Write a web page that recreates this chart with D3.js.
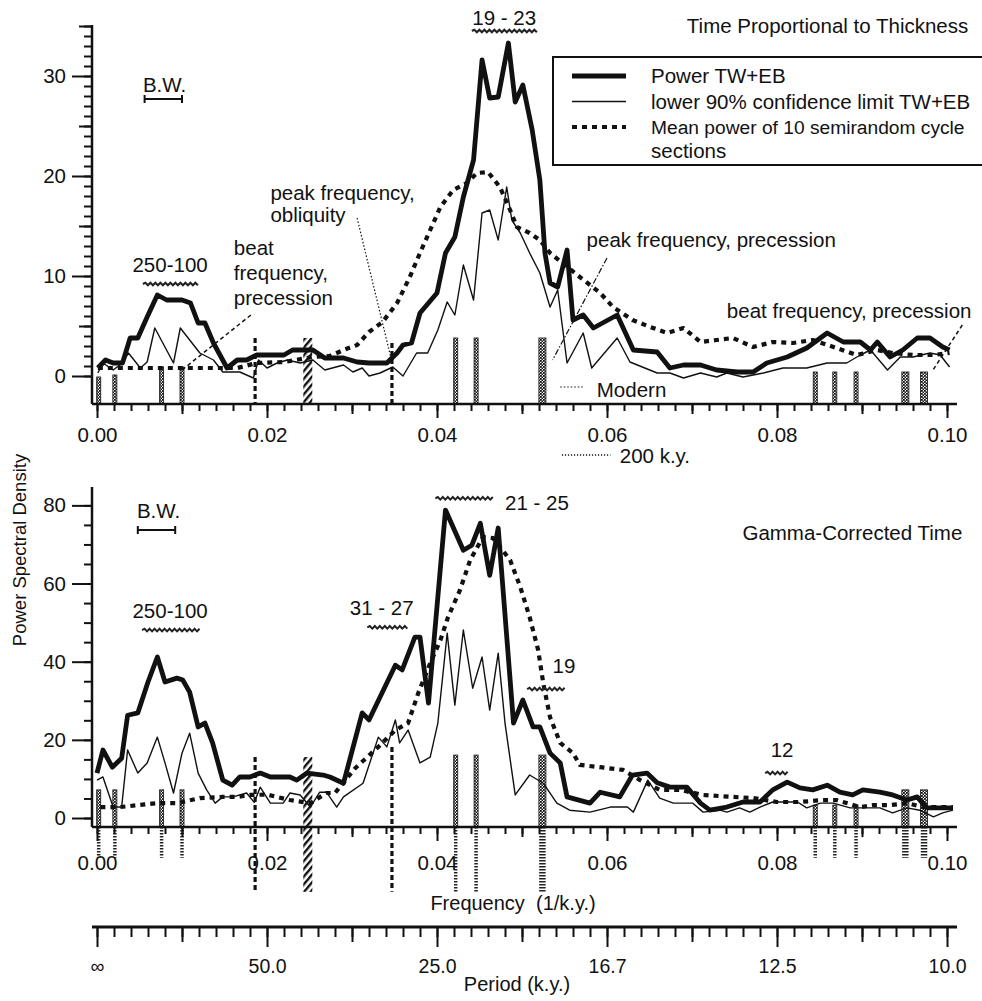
<!DOCTYPE html>
<html><head><meta charset="utf-8">
<script src="https://cdn.jsdelivr.net/npm/d3@7"></script>
<style>
body{margin:0;background:#fff}
svg{display:block}
text{font-family:"Liberation Sans",Arial,Helvetica,sans-serif;fill:#111}
</style></head>
<body><svg id="c" width="982" height="1001"></svg>
<script>
// ---------------- DATA ----------------
// [frequency (1/k.y.), power]
const topPower = [[0.0001,0.8],[0.001,1.6],[0.0019,1.3],[0.003,1.3],[0.0039,3.8],[0.0048,3.8],[0.0059,5.9],[0.0071,8.1],[0.0082,7.6],[0.010,7.6],[0.011,7.3],[0.0119,5.3],[0.0127,5.3],[0.0137,3.3],[0.0153,0.8],[0.0165,1.6],[0.0176,1.6],[0.0188,2.1],[0.022,2.1],[0.023,2.6],[0.0254,2.6],[0.0268,1.8],[0.029,1.8],[0.0306,1.4],[0.032,1.3],[0.0341,1.3],[0.0353,2.3],[0.036,3.1],[0.037,3.3],[0.038,6.3],[0.0388,7.1],[0.040,8.3],[0.041,12.3],[0.0421,13.9],[0.0431,17.9],[0.0443,21.6],[0.0453,31.6],[0.0462,27.8],[0.0472,27.9],[0.0484,33.3],[0.0492,27.4],[0.0501,29.1],[0.0512,24.6],[0.0521,19.6],[0.0527,12.3],[0.0533,9.3],[0.0542,8.9],[0.0553,12.6],[0.056,5.6],[0.0572,6.1],[0.0584,4.8],[0.0612,6.1],[0.0631,2.6],[0.0659,2.4],[0.0674,0.8],[0.069,1.1],[0.071,1.1],[0.0729,0.6],[0.0753,0.4],[0.0772,0.4],[0.0788,1.3],[0.0812,1.9],[0.0835,2.8],[0.0859,4.3],[0.0878,3.4],[0.0898,3.4],[0.091,2.6],[0.0918,3.4],[0.0933,1.9],[0.0948,2.6],[0.0965,3.8],[0.098,3.8],[0.0995,2.9],[0.1003,2.6]];
const topLower = [[0.0001,0.3],[0.0007,1.3],[0.0019,0.6],[0.003,1.3],[0.0037,2.3],[0.0051,0.8],[0.0059,1.4],[0.0068,4.8],[0.009,1.3],[0.0098,4.8],[0.0121,2.3],[0.0137,1.6],[0.0148,0.4],[0.0168,0.4],[0.0184,-0.2],[0.019,1.6],[0.02,0.8],[0.0212,1.3],[0.0224,1.6],[0.0239,1.3],[0.0254,1.6],[0.0268,0.6],[0.029,1.1],[0.0301,0.4],[0.0312,0.8],[0.032,0.0],[0.0333,0.3],[0.0348,0.9],[0.036,0.0],[0.0376,2.3],[0.0389,2.3],[0.0401,4.6],[0.0412,7.4],[0.0421,6.1],[0.0431,11.1],[0.0443,7.6],[0.0453,16.3],[0.0462,16.6],[0.0472,13.6],[0.0482,18.9],[0.0488,15.6],[0.0498,14.3],[0.0509,12.3],[0.0521,10.3],[0.0533,6.9],[0.0542,8.6],[0.0553,1.3],[0.0572,4.3],[0.0582,0.8],[0.0612,3.8],[0.0627,1.4],[0.0659,0.3],[0.0674,0.3],[0.069,-0.2],[0.071,0.3],[0.0729,-0.1],[0.0741,0.3],[0.076,-0.1],[0.0784,0.3],[0.0807,0.8],[0.0835,0.8],[0.0859,1.3],[0.0882,1.3],[0.0898,2.1],[0.091,2.6],[0.093,0.6],[0.0945,1.9],[0.096,1.9],[0.098,2.3],[0.0992,2.1],[0.1003,0.9]];
const topMean = [[0.0001,0.8],[0.005,0.8],[0.010,0.8],[0.0165,0.8],[0.0188,1.3],[0.022,1.4],[0.0254,1.9],[0.0274,2.0],[0.029,2.6],[0.0306,3.1],[0.032,4.4],[0.0336,5.4],[0.0353,7.3],[0.0368,9.9],[0.038,12.3],[0.0392,14.6],[0.0404,16.9],[0.0419,18.6],[0.0435,19.3],[0.0447,20.3],[0.046,20.4],[0.0474,18.9],[0.0486,16.6],[0.0494,14.9],[0.0509,14.3],[0.0521,13.6],[0.0533,12.3],[0.0568,9.9],[0.0592,8.3],[0.0607,6.9],[0.063,5.6],[0.0651,4.9],[0.0671,4.3],[0.069,4.8],[0.071,3.4],[0.0729,3.6],[0.0748,3.8],[0.0772,2.9],[0.0795,3.4],[0.0819,3.3],[0.0842,3.6],[0.087,2.8],[0.0894,2.1],[0.0918,2.6],[0.0936,2.3],[0.096,2.1],[0.0984,2.1],[0.1003,2.3]];

const botPower = [[0.0,11.5],[0.0007,17.4],[0.0018,13.0],[0.0029,15.3],[0.0036,26.3],[0.0048,26.9],[0.006,34.8],[0.0071,41.2],[0.008,34.8],[0.0094,35.8],[0.0101,35.3],[0.0109,32.2],[0.0119,23.3],[0.0127,24.3],[0.0136,19.2],[0.0148,9.7],[0.0159,8.4],[0.0168,10.5],[0.018,10.5],[0.0192,11.5],[0.0204,10.5],[0.0227,10.5],[0.0235,9.7],[0.0247,11.5],[0.0266,11.0],[0.0274,10.5],[0.029,8.9],[0.0312,26.9],[0.032,25.1],[0.0351,39.1],[0.0359,37.9],[0.0374,46.3],[0.038,46.3],[0.039,29.4],[0.041,78.8],[0.0431,68.5],[0.0441,69.8],[0.0451,75.4],[0.0462,62.1],[0.0472,74.2],[0.049,24.3],[0.0501,30.2],[0.0513,23.3],[0.0521,23.3],[0.0533,16.6],[0.0545,14.1],[0.0553,5.4],[0.058,3.8],[0.0592,6.6],[0.0615,5.4],[0.063,11.0],[0.0647,11.5],[0.0659,9.0],[0.0674,7.9],[0.0694,7.9],[0.071,3.8],[0.0721,2.0],[0.0741,2.8],[0.076,4.1],[0.078,4.1],[0.0795,7.2],[0.0812,9.2],[0.0827,7.7],[0.0842,7.2],[0.0859,8.4],[0.0874,6.6],[0.0889,5.9],[0.0901,7.2],[0.0921,6.6],[0.0936,5.9],[0.0953,4.6],[0.0965,5.4],[0.0976,2.6],[0.1007,2.6]];
const botLower = [[0.0,9.7],[0.0007,10.5],[0.0019,2.8],[0.0029,2.8],[0.0036,17.4],[0.0048,11.5],[0.0059,14.1],[0.0071,20.7],[0.008,14.1],[0.009,6.4],[0.01,16.6],[0.0109,21.7],[0.0119,11.5],[0.0129,7.2],[0.0139,3.8],[0.0148,5.4],[0.016,5.4],[0.0176,6.4],[0.0185,4.0],[0.0192,7.9],[0.0204,3.8],[0.0219,3.8],[0.0227,6.4],[0.0239,5.9],[0.0251,2.8],[0.0262,6.6],[0.027,6.6],[0.0282,2.8],[0.029,5.4],[0.0313,8.9],[0.0331,20.7],[0.0341,18.2],[0.0351,25.1],[0.0356,19.2],[0.0366,22.5],[0.038,14.1],[0.0392,15.6],[0.0401,24.3],[0.0412,47.3],[0.0421,28.9],[0.0431,48.1],[0.0442,33.2],[0.0453,41.2],[0.0462,27.6],[0.0472,42.2],[0.048,24.3],[0.0492,5.9],[0.0509,11.0],[0.0525,8.9],[0.0541,3.8],[0.0556,2.0],[0.058,1.5],[0.0604,2.8],[0.0624,2.8],[0.0631,1.5],[0.0648,9.7],[0.0662,5.1],[0.0678,3.8],[0.0701,3.8],[0.0713,1.5],[0.0733,2.0],[0.0741,1.5],[0.0756,2.6],[0.0768,1.5],[0.078,2.8],[0.0795,4.1],[0.0824,4.1],[0.0835,2.6],[0.0851,3.8],[0.0866,3.8],[0.0886,2.6],[0.0898,2.6],[0.0921,2.6],[0.0936,1.3],[0.0953,2.6],[0.0968,2.0],[0.0984,0.3],[0.0995,1.3],[0.1007,2.0]];
const botMean = [[0.0004,2.8],[0.0027,2.8],[0.0071,3.8],[0.0094,3.8],[0.0121,5.1],[0.0148,5.4],[0.0165,5.4],[0.018,5.9],[0.02,6.0],[0.0227,4.6],[0.0251,3.8],[0.027,6.4],[0.028,6.4],[0.0304,12.8],[0.0318,15.6],[0.0331,18.2],[0.0351,22.5],[0.0366,24.3],[0.0378,32.0],[0.0392,39.6],[0.0404,45.5],[0.0413,51.4],[0.0427,58.3],[0.0439,66.0],[0.0454,71.9],[0.0466,71.6],[0.0486,66.0],[0.0498,59.1],[0.0509,51.4],[0.0519,43.0],[0.0525,34.5],[0.0533,25.8],[0.0545,19.2],[0.056,16.6],[0.0568,13.6],[0.0592,13.0],[0.0619,12.3],[0.0639,9.7],[0.0662,7.2],[0.0686,7.2],[0.0713,5.9],[0.0748,5.4],[0.0772,5.1],[0.08,4.1],[0.0827,4.1],[0.0854,4.6],[0.087,4.6],[0.0898,2.8],[0.0913,3.3],[0.0933,3.3],[0.0953,3.8],[0.0972,2.8],[0.1007,2.8]];

// orbital frequency markers
const orbitalF    = [0.0002,0.0021,0.0076,0.0100,0.0186,0.0248,0.0347,0.0422,0.0446,0.0524,0.0845,0.0868,0.0893,0.0951,0.0973];
const orbitalKind = ["s","s","s","s","d","h","d","s","s","w","s","s","s","w","w"];
const orbitalTopH = [-0.1,0.1,0.9,0.9,3.8,3.8,3.3,3.8,3.8,3.8,0.4,0.4,0.4,0.4,0.4];
const orbitalBotH = [7.2,7.2,7.2,7.2,15.6,15.6,18.2,16.1,16.1,16.1,3.3,3.3,3.3,7.2,7.2];
const orbitalBotLow = [-10.2,-10.2,-10.2,-10.2,-18.9,-18.9,-18.9,-18.9,-18.9,-18.9,-10.2,-10.2,-10.2,-10.2,-10.2];

const yTopMajor = [0,10,20,30];
const yBotMajor = [0,20,40,60,80];
const freqMajor = [0,0.02,0.04,0.06,0.08,0.10];

const legendItems = ["Power TW+EB","lower 90% confidence limit TW+EB","Mean power of 10 semirandom cycle"];

// annotations: [text, freq, power, anchor]
const topLabels = [
  ["B.W.",0.0054,28.4,"start"],["250-100",0.0086,10.4,"middle"],
  ["beat",0.0161,12.1,"start"],["frequency,",0.0161,9.6,"start"],["precession",0.0161,7.1,"start"],
  ["peak frequency,",0.0204,17.6,"start"],["obliquity",0.0204,15.4,"start"],
  ["19 - 23",0.0479,35.1,"middle"],["peak frequency, precession",0.0576,12.9,"start"],
  ["beat frequency, precession",0.0741,5.8,"start"],["Modern",0.0588,-2.1,"start"],
  ["200 k.y.",0.0615,-8.7,"start"],["Time Proportional to Thickness",0.1025,34.3,"end"]];
const botLabels = [
  ["B.W.",0.0047,76.7,"start"],["250-100",0.0086,51.2,"middle"],["31 - 27",0.0335,51.9,"middle"],
  ["21 - 25",0.048,78.8,"start"],["19",0.0536,37.1,"start"],["12",0.0806,15.6,"middle"],
  ["Gamma-Corrected Time",0.1018,71.1,"end"]];
// wavy bands: [f0, f1, power]
const topBands = [[0.0054,0.0121,9.2],[0.0441,0.0519,34.5]];
const botBands = [[0.0053,0.0121,48.1],[0.0318,0.0368,48.8],[0.0398,0.0468,81.8],[0.0506,0.0553,33.0],[0.0786,0.0815,11.5]];
// bandwidth brackets
const topBW = [0.0056,0.0100,27.7];
const botBW = [0.0048,0.0092,73.7];
// leader lines: [f0,p0,f1,p1,style]
const topLeaders = [[0.0181,6.1,0.0100,0.6,"dash"],[0.0306,15.8,0.0347,1.4,"dot"],[0.0600,11.8,0.0536,1.6,"dashdot"],[0.1018,5.1,0.0982,0.4,"dash"],[0.0545,-1.1,0.0572,-1.1,"dot"],[0.0547,-7.9,0.0604,-7.9,"fine"]];

// ---------------- DRAW ----------------
const svg = d3.select("#c");
const x = d3.scaleLinear().domain([0,0.1]).range([97,947]);
const yTop = d3.scaleLinear().domain([-2.8,35.1]).range([404,25]);
const yBot = d3.scaleLinear().domain([-2.3,84.7]).range([827,487]);
const AX = 92, AXR = 957;

const defs = svg.append("defs");
const st = defs.append("pattern").attr("id","stip").attr("width",3).attr("height",3).attr("patternUnits","userSpaceOnUse");
st.append("rect").attr("width",3).attr("height",3).attr("fill","#fff");
st.append("rect").attr("width",1.8).attr("height",1.8).attr("fill","#111");
st.append("rect").attr("x",1.5).attr("y",1.5).attr("width",1.5).attr("height",1.5).attr("fill","#111");
const ht = defs.append("pattern").attr("id","hatch").attr("width",5).attr("height",5).attr("patternUnits","userSpaceOnUse").attr("patternTransform","rotate(40)");
ht.append("rect").attr("width",5).attr("height",5).attr("fill","#fff");
ht.append("rect").attr("width",2.4).attr("height",5).attr("fill","#111");

function vAxis(y, minors, mediums, majors){
  const g = svg.append("g");
  g.append("line").attr("x1",AX).attr("x2",AX).attr("y1",y.range()[1]).attr("y2",y.range()[0]).attr("stroke","#111").attr("stroke-width",2.5);
  const mk = (vals,size,fmt)=>{
    const a = g.append("g").attr("transform",`translate(${AX},0)`)
      .call(d3.axisLeft(y).tickValues(vals).tickSize(size).tickSizeOuter(0).tickPadding(6).tickFormat(fmt));
    a.select(".domain").remove();
    a.selectAll("line").attr("stroke","#111").attr("stroke-width",2);
    a.selectAll("text").attr("font-size",20.5).attr("font-family",null).attr("fill","#111");
  };
  mk(minors,8,"");
  if(mediums) mk(mediums,13,"");
  mk(majors,20,d3.format("d"));
}
function hAxis(yPos, pad, lens, fmt, fs, w){
  const g = svg.append("g");
  g.append("line").attr("x1",AX).attr("x2",AXR).attr("y1",yPos).attr("y2",yPos).attr("stroke","#111").attr("stroke-width",w);
  const mk = (vals,size,f)=>{
    const a = g.append("g").attr("transform",`translate(0,${yPos})`)
      .call(d3.axisBottom(x).tickValues(vals).tickSize(size).tickSizeOuter(0).tickPadding(pad).tickFormat(f));
    a.select(".domain").remove();
    a.selectAll("line").attr("stroke","#111").attr("stroke-width",2);
    a.selectAll("text").attr("font-size",fs).attr("font-family",null).attr("fill","#111");
  };
  mk(d3.range(0,0.1001,0.002),lens[0],"");
  mk(d3.range(0.01,0.1,0.02),lens[1],"");
  mk(freqMajor,lens[2],fmt);
}

function orbitals(y, heights, lows, axisY){
  const g = svg.append("g");
  orbitalF.forEach((f,i)=>{
    const k = orbitalKind[i], top = y(heights[i]), cx = x(f);
    const bottom = lows ? y(lows[i]) : axisY;
    if(k==="s"||k==="w"){
      const w = k==="s"?4:7;
      g.append("rect").attr("x",cx-w/2).attr("y",top).attr("width",w).attr("height",axisY-top)
        .attr("fill","url(#stip)").attr("stroke","#222").attr("stroke-width",0.9);
      if(lows) g.append("line").attr("x1",cx).attr("x2",cx).attr("y1",axisY).attr("y2",bottom)
        .attr("stroke","#222").attr("stroke-width",w-0.5).attr("stroke-dasharray","1.5,1.5");
    } else if(k==="h"){
      g.append("rect").attr("x",cx-4.5).attr("y",top).attr("width",9).attr("height",bottom-top).attr("fill","url(#hatch)");
    } else {
      g.append("line").attr("x1",cx).attr("x2",cx).attr("y1",top).attr("y2",bottom)
        .attr("stroke","#111").attr("stroke-width",3.2).attr("stroke-dasharray","5,3");
    }
  });
}

function series(y, power, lower, mean){
  const line = d3.line().x(d=>x(d[0])).y(d=>y(d[1]));
  const g = svg.append("g").attr("fill","none").attr("stroke","#111").attr("stroke-linejoin","round");
  g.append("path").attr("d",line(mean)).attr("stroke-width",4.2).attr("stroke-dasharray","5,5");
  g.append("path").attr("d",line(lower)).attr("stroke-width",1.4);
  g.append("path").attr("d",line(power)).attr("stroke-width",4.8);
}

function wavy(f0,f1,v,y){
  const x0=x(f0), x1=x(f1), yy=y(v); let d=`M${x0},${yy}`; let up=true;
  for(let xx=x0+2.5; xx<=x1; xx+=2.5){ d+=`L${xx},${yy+(up?-1.3:1.3)}`; up=!up; }
  svg.append("path").attr("d",d).attr("fill","none").attr("stroke","#222").attr("stroke-width",2);
}
function bracket(b,y){
  const x0=x(b[0]), x1=x(b[1]), yy=y(b[2]);
  const g = svg.append("g").attr("stroke","#111").attr("stroke-width",2);
  g.append("line").attr("x1",x0).attr("x2",x1).attr("y1",yy).attr("y2",yy);
  g.append("line").attr("x1",x0).attr("x2",x0).attr("y1",yy-4).attr("y2",yy+4);
  g.append("line").attr("x1",x1).attr("x2",x1).attr("y1",yy-4).attr("y2",yy+4);
}
function labels(arr,y){
  svg.append("g").selectAll("text").data(arr).join("text")
    .attr("x",d=>x(d[1])).attr("y",d=>y(d[2])).attr("text-anchor",d=>d[3])
    .attr("font-size",20.5).text(d=>d[0]);
}
const dashStyle = {dash:["4,3",1.5],dot:["1.5,2",1.2],dashdot:["6,2,1.5,2",1.2],fine:["1.2,1.8",1.6]};

// ---- top panel ----
orbitals(yTop, orbitalTopH, null, 404);
series(yTop, topPower, topLower, topMean);
vAxis(yTop, d3.range(0,36,1), [5,15,25,35], yTopMajor);
hAxis(404, 9, [7,10,14], d3.format(".2f"), 20.5, 2.5);
topLeaders.forEach(l=>{
  svg.append("line").attr("x1",x(l[0])).attr("y1",yTop(l[1])).attr("x2",x(l[2])).attr("y2",yTop(l[3]))
    .attr("stroke","#111").attr("stroke-dasharray",dashStyle[l[4]][0]).attr("stroke-width",dashStyle[l[4]][1]);
});
topBands.forEach(b=>wavy(b[0],b[1],b[2],yTop));
bracket(topBW,yTop);
labels(topLabels,yTop);

// legend
const lg = svg.append("g");
lg.append("rect").attr("x",553).attr("y",57).attr("width",445).attr("height",108).attr("fill","#fff").attr("stroke","#111").attr("stroke-width",2);
const lstyles = [[4.8,null],[1.4,null],[4.2,"5,5"]];
const lsizes = [20.5,20.5,19.2];
legendItems.forEach((t,i)=>{
  const yy = 76 + i*25.5;
  lg.append("line").attr("x1",572).attr("x2",626).attr("y1",yy).attr("y2",yy).attr("stroke","#111")
    .attr("stroke-width",lstyles[i][0]).attr("stroke-dasharray",lstyles[i][1]);
  lg.append("text").attr("x",651).attr("y",yy+7).attr("font-size",lsizes[i]).text(t);
});
lg.append("text").attr("x",651).attr("y",158).attr("font-size",20.5).text("sections");

// ---- bottom panel ----
orbitals(yBot, orbitalBotH, orbitalBotLow, 827);
series(yBot, botPower, botLower, botMean);
vAxis(yBot, d3.range(0,85,5), null, yBotMajor);
hAxis(827, 14, [7,10,14], d3.format(".2f"), 20.5, 2.5);
botBands.forEach(b=>wavy(b[0],b[1],b[2],yBot));
bracket(botBW,yBot);
labels(botLabels,yBot);

svg.append("text").attr("x",513).attr("y",910).attr("text-anchor","middle").attr("font-size",20)
  .style("white-space","pre").text("Frequency  (1/k.y.)");

// ---- period axis ----
hAxis(927, 12, [10,15,20], f=> f===0 ? "\u221E" : (1/f).toFixed(1), 19.5, 3);
svg.append("text").attr("x",517).attr("y",991).attr("text-anchor","middle").attr("font-size",20).text("Period (k.y.)");

svg.append("text").attr("transform","translate(26,550) rotate(-90)").attr("text-anchor","middle")
  .attr("font-size",18.5).text("Power Spectral Density");
</script></body></html>
